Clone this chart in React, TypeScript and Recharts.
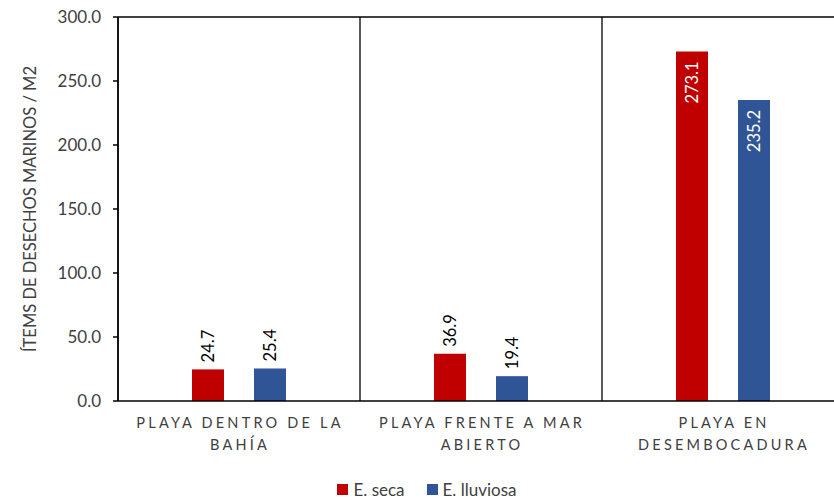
import React from 'react';
import {
  BarChart,
  Bar,
  XAxis,
  YAxis,
  CartesianGrid,
  Legend,
  LabelList,
  ReferenceLine,
} from 'recharts';

// Chart values
const categories = ['PLAYA DENTRO DE LA\nBAHÍA', 'PLAYA FRENTE A MAR\nABIERTO', 'PLAYA EN\nDESEMBOCADURA'];
const secaValues = [24.7, 36.9, 273.1];
const lluviosaValues = [25.4, 19.4, 235.2];
const yTicks = [0, 50, 100, 150, 200, 250, 300];

const RED = '#C00000';
const BLUE = '#2F5597';
const FONT = 'Lato, "Noto Sans", sans-serif';

const data = categories.map((name, i) => ({
  name,
  seca: secaValues[i],
  lluviosa: lluviosaValues[i],
}));

// two-line spaced category label
function CategoryTick(props: any) {
  const { x, y, payload } = props;
  const lines = String(payload.value).split('\n');
  return (
    <g transform={`translate(${x},${y})`}>
      {lines.map((line, i) => (
        <text
          key={i}
          x={1}
          y={19 + i * 22}
          textAnchor="middle"
          fill="#404040"
          fontSize={14.5}
          letterSpacing={3.2}
          fontFamily={FONT}
        >
          {line}
        </text>
      ))}
    </g>
  );
}

// rotated value label: above the bar when short, inside the top when tall
function ValueLabel(props: any) {
  const { x, y, width, height, value } = props;
  const cx = x + width / 2;
  const inside = height > 60;
  const ty = inside ? y + 10 : y - 7;
  return (
    <text
      x={cx}
      y={ty}
      transform={`rotate(-90, ${cx}, ${ty})`}
      textAnchor={inside ? 'end' : 'start'}
      dominantBaseline="central"
      fill={inside ? '#FFFFFF' : '#000000'}
      fontSize={16.5}
      fontFamily={FONT}
    >
      {Number(value).toFixed(1)}
    </text>
  );
}

function LegendContent() {
  const items = [
    { label: 'E. seca', color: RED },
    { label: 'E. lluviosa', color: BLUE },
  ];
  return (
    <div
      style={{
        display: 'flex',
        justifyContent: 'center',
        gap: 22,
        fontFamily: FONT,
        fontSize: 17,
        color: '#404040',
        height: 22,
        alignItems: 'center',
        paddingLeft: 10,
      }}
    >
      {items.map((it) => (
        <div key={it.label} style={{ display: 'flex', alignItems: 'center', gap: 5 }}>
          <div style={{ width: 11, height: 11, background: it.color }} />
          <span>{it.label}</span>
        </div>
      ))}
    </div>
  );
}

export default function App() {
  // separators between categories, computed from the plot area
  const separators = ({ offset }: any) => {
    const out: number[] = [];
    for (let i = 0; i <= categories.length; i++) {
      out.push(offset.left + (offset.width * i) / categories.length);
    }
    return out;
  };

  return (
    <div style={{ position: 'absolute', left: 0, top: 0, width: 834, height: 500, overflow: 'hidden', background: '#fff' }}>
      <BarChart
        width={860}
        height={500}
        data={data}
        margin={{ top: 17, right: 16, left: 0, bottom: 47 }}
        barSize={32}
        barGap={30}
      >
        <CartesianGrid
          horizontal={false}
          stroke="#000"
          strokeWidth={1.3}
          verticalCoordinatesGenerator={separators}
        />
        <ReferenceLine y={300} stroke="#000" strokeWidth={1.5} ifOverflow="extendDomain" />
        <XAxis
          dataKey="name"
          tick={<CategoryTick />}
          tickLine={false}
          axisLine={{ stroke: '#000', strokeWidth: 1.5 }}
          interval={0}
        />
        <YAxis
          width={118}
          domain={[0, 300]}
          ticks={yTicks}
          tickFormatter={(v: number) => v.toFixed(1)}
          tick={{ fill: '#404040', fontSize: 17, fontFamily: FONT }}
          tickSize={5}
          tickMargin={12}
          tickLine={{ stroke: '#000', strokeWidth: 1.5 }}
          axisLine={{ stroke: '#000', strokeWidth: 1.5 }}
          label={{
            value: 'ÍTEMS DE DESECHOS MARINOS / M2',
            angle: -90,
            position: 'insideLeft',
            dx: 25,
            dy: 0,
            style: { textAnchor: 'middle', fill: '#404040', fontSize: 16.5, fontFamily: FONT },
          }}
        />
        <Legend verticalAlign="bottom" content={<LegendContent />} wrapperStyle={{ bottom: 0 }} />
        <Bar dataKey="seca" name="E. seca" fill={RED} isAnimationActive={false}>
          <LabelList dataKey="seca" content={<ValueLabel />} />
        </Bar>
        <Bar dataKey="lluviosa" name="E. lluviosa" fill={BLUE} isAnimationActive={false}>
          <LabelList dataKey="lluviosa" content={<ValueLabel />} />
        </Bar>
      </BarChart>
    </div>
  );
}
